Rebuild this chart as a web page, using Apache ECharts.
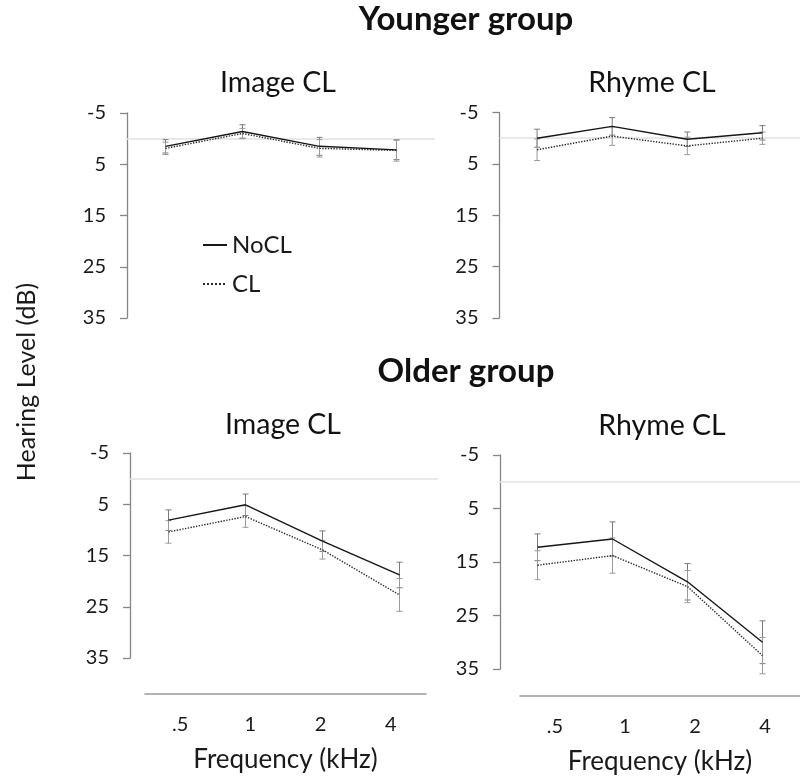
<!DOCTYPE html>
<html>
<head>
<meta charset="utf-8">
<script src="https://cdn.jsdelivr.net/npm/echarts@6/dist/echarts.min.js"></script>
<style>html,body{margin:0;padding:0;background:#fff;}#chart{width:800px;height:776px;}</style>
</head>
<body>
<div id="chart"></div>
<script>
// ---- data ----
const freqLabels = ['.5', '1', '2', '4'];
const yTicks = [-5, 5, 15, 25, 35];

const youngImageNoCL = [1.5, -1.4, 1.5, 2.2];
const youngImageCL = [1.9, -1.0, 1.9, 2.3];
const youngImageNoCLErr = [1.3, 1.3, 1.75, 1.9];
const youngImageCLErr = [1.2, 1.0, 1.7, 2.1];

const youngRhymeNoCL = [0.0, -2.3, 0.2, -1.05];
const youngRhymeCL = [2.25, -0.4, 1.5, 0.0];
const youngRhymeNoCLErr = [1.75, 1.7, 1.4, 1.4];
const youngRhymeCLErr = [2.1, 1.8, 1.7, 1.2];

const oldImageNoCL = [8.1, 5.1, 12.2, 18.8];
const oldImageCL = [10.4, 7.4, 13.9, 22.7];
const oldImageNoCLErr = [2.0, 2.1, 2.0, 2.5];
const oldImageCLErr = [2.2, 2.1, 1.8, 3.2];

const oldRhymeNoCL = [12.25, 10.7, 18.7, 30.0];
const oldRhymeCL = [15.6, 13.8, 19.6, 32.5];
const oldRhymeNoCLErr = [2.5, 3.2, 3.4, 4.0];
const oldRhymeCLErr = [2.7, 3.3, 3.0, 3.4];

const panels = [
  {noCL: youngImageNoCL, cl: youngImageCL, noErr: youngImageNoCLErr, clErr: youngImageCLErr},
  {noCL: youngRhymeNoCL, cl: youngRhymeCL, noErr: youngRhymeNoCLErr, clErr: youngRhymeCLErr},
  {noCL: oldImageNoCL, cl: oldImageCL, noErr: oldImageNoCLErr, clErr: oldImageCLErr},
  {noCL: oldRhymeNoCL, cl: oldRhymeCL, noErr: oldRhymeNoCLErr, clErr: oldRhymeCLErr}
];

// ---- layout ----
const FONT = 'Lato';
const dataGrids = [
  {left: 127, top: 113, width: 308, height: 205},
  {left: 499.5, top: 112.5, width: 308, height: 205.5},
  {left: 130, top: 453, width: 308, height: 205},
  {left: 500, top: 455, width: 308, height: 214}
];
const labelGrids = [
  {left: 145, top: 600, width: 281, height: 94},
  {left: 520, top: 602, width: 280, height: 94}
];

function errRender(color) {
  return function (params, api) {
    const x = api.value(0), v = api.value(1), e = api.value(2);
    const a = api.coord([x, v - e]);
    const b = api.coord([x, v + e]);
    const w = 3;
    const st = {stroke: color, lineWidth: 1};
    return {
      type: 'group',
      children: [
        {type: 'line', shape: {x1: a[0], y1: a[1], x2: b[0], y2: b[1]}, style: st},
        {type: 'line', shape: {x1: a[0] - w, y1: a[1], x2: a[0] + w, y2: a[1]}, style: st},
        {type: 'line', shape: {x1: b[0] - w, y1: b[1], x2: b[0] + w, y2: b[1]}, style: st}
      ]
    };
  };
}

const grid = [], xAxis = [], yAxis = [], series = [];
dataGrids.forEach((g, i) => {
  grid.push(Object.assign({containLabel: false}, g));
  xAxis.push({type: 'value', gridIndex: i, min: -0.5, max: 3.5, show: false});
  yAxis.push({
    type: 'value', gridIndex: i, inverse: true, min: -5, max: 35, interval: 10,
    axisLine: {show: true, onZero: false, lineStyle: {color: '#868686', width: 1.3}},
    axisTick: {show: true, inside: false, length: 7, customValues: yTicks, lineStyle: {color: '#868686', width: 1.3}},
    axisLabel: {customValues: yTicks, fontSize: 20, fontFamily: FONT, color: '#1a1a1a', margin: 21},
    splitLine: {show: false}
  });
  const p = panels[i];
  series.push({
    type: 'custom', name: 'errNoCL' + i, xAxisIndex: i, yAxisIndex: i,
    renderItem: errRender('#7a7a7a'), clip: false,
    data: p.noCL.map((v, k) => [k, v, p.noErr[k]]), z: 2
  });
  series.push({
    type: 'custom', name: 'errCL' + i, xAxisIndex: i, yAxisIndex: i,
    renderItem: errRender('#9a9a9a'), clip: false,
    data: p.cl.map((v, k) => [k, v, p.clErr[k]]), z: 2
  });
  series.push({
    type: 'line', name: 'NoCL', xAxisIndex: i, yAxisIndex: i, symbol: 'none',
    lineStyle: {color: '#161616', width: 1.4, type: 'solid'}, itemStyle: {color: '#161616'},
    data: p.noCL.map((v, k) => [k, v]), z: 4,
    markLine: {
      silent: true, symbol: 'none', label: {show: false},
      lineStyle: {color: '#e2e2e2', width: 1.5, type: 'solid'},
      data: [{yAxis: 0}], z: 1
    }
  });
  series.push({
    type: 'line', name: 'CL', xAxisIndex: i, yAxisIndex: i, symbol: 'none',
    lineStyle: {color: '#2a2a2a', width: 1.4, type: 'dotted'}, itemStyle: {color: '#2a2a2a'},
    data: p.cl.map((v, k) => [k, v]), z: 3
  });
});
labelGrids.forEach((g, j) => {
  const gi = dataGrids.length + j;
  grid.push(Object.assign({containLabel: false}, g));
  xAxis.push({
    type: 'category', gridIndex: gi, data: freqLabels, boundaryGap: true, position: 'bottom',
    axisLine: {show: true, lineStyle: {color: '#9a9a9a', width: 1.5}},
    axisTick: {show: false},
    axisLabel: {fontSize: 20, fontFamily: FONT, color: '#1a1a1a', margin: 21},
    name: 'Frequency (kHz)', nameLocation: 'middle', nameGap: 53,
    nameTextStyle: {fontSize: 26, fontFamily: FONT, color: '#1a1a1a'}
  });
  yAxis.push({type: 'value', gridIndex: gi, show: false, min: 0, max: 1});
});

const titleStyle = (size, bold) => ({fontSize: size, fontFamily: FONT, fontWeight: bold ? 'bold' : 'normal', color: '#111'});
const option = {
  animation: false,
  textStyle: {fontFamily: FONT},
  title: [
    {text: 'Younger group', left: 466, top: 3, textAlign: 'center', textStyle: titleStyle(33, true), padding: 0},
    {text: 'Older group', left: 466, top: 355, textAlign: 'center', textStyle: titleStyle(33, true), padding: 0},
    {text: 'Image CL', left: 278, top: 68, textAlign: 'center', textStyle: titleStyle(28.5, false), padding: 0},
    {text: 'Rhyme CL', left: 652, top: 68, textAlign: 'center', textStyle: titleStyle(28.5, false), padding: 0},
    {text: 'Image CL', left: 283, top: 410, textAlign: 'center', textStyle: titleStyle(28.5, false), padding: 0},
    {text: 'Rhyme CL', left: 662, top: 411, textAlign: 'center', textStyle: titleStyle(28.5, false), padding: 0}
  ],
  legend: {
    data: ['NoCL', 'CL'], orient: 'vertical', left: 202, top: 233, padding: 0,
    itemWidth: 24, itemHeight: 14, itemGap: 15,
    itemStyle: {opacity: 0, borderWidth: 0},
    textStyle: {fontSize: 24, lineHeight: 24, fontFamily: FONT, color: '#1a1a1a'},
    selectedMode: false
  },
  graphic: [
    {type: 'text', x: 27, y: 382, rotation: Math.PI / 2,
     style: {text: 'Hearing Level (dB)', fontSize: 25, fontFamily: FONT, fill: '#1a1a1a', align: 'center', verticalAlign: 'middle'}}
  ],
  grid, xAxis, yAxis, series
};
const chart = echarts.init(document.getElementById('chart'), null, {renderer: 'canvas'});
chart.setOption(option);
</script>
</body>
</html>
